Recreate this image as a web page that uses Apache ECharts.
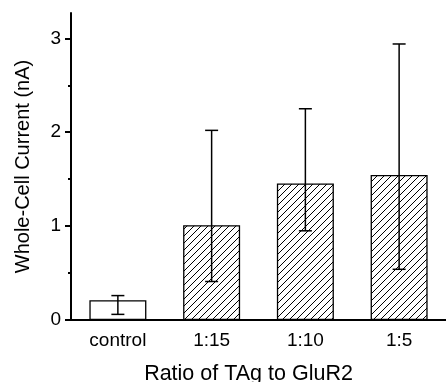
<!DOCTYPE html>
<html><head><meta charset="utf-8">
<script src="https://cdn.jsdelivr.net/npm/echarts@6/dist/echarts.min.js"></script>
<style>html,body{margin:0;padding:0;background:#fff}#c{width:446px;height:382px}</style>
</head><body><div id="c"></div>
<script>
const categories = ['control', '1:15', '1:10', '1:5'];
const means = [0.21, 1.01, 1.455, 1.545];
const errLow = [0.06, 0.41, 0.95, 0.54];
const errHigh = [0.26, 2.02, 2.25, 2.94];
const yTicks = [0, 1, 2, 3];
const yMinorTicks = [0.5, 1.5, 2.5];
const xName = 'Ratio of TAg to GluR2';
const yName = 'Whole-Cell Current (nA)';

function hatch() {
  const s = 7;
  const c = document.createElement('canvas');
  c.width = s; c.height = s;
  const g = c.getContext('2d');
  g.fillStyle = '#fff'; g.fillRect(0, 0, s, s);
  g.strokeStyle = '#000'; g.lineWidth = 1;
  g.beginPath();
  g.moveTo(0, s); g.lineTo(s, 0);
  g.moveTo(-1, 1); g.lineTo(1, -1);
  g.moveTo(s - 1, s + 1); g.lineTo(s + 1, s - 1);
  g.stroke();
  return c;
}
const pattern = { image: hatch(), repeat: 'repeat' };
const font = "'Liberation Sans', Arial, sans-serif";
const YMAX = 3.27;

const chart = echarts.init(document.getElementById('c'), null, { renderer: 'canvas' });
chart.setOption({
  animation: false,
  backgroundColor: '#fff',
  grid: { left: 71, right: 0, top: 13, bottom: 62, containLabel: false, outerBoundsMode: 'none' },
  xAxis: {
    type: 'category',
    data: categories,
    name: xName,
    nameLocation: 'middle',
    nameGap: 43,
    nameTextStyle: { fontSize: 21.5, color: '#000', fontFamily: font, padding: [0, 20, 0, 0] },
    axisLine: { lineStyle: { color: '#000', width: 2 } },
    axisTick: { alignWithLabel: true, length: 6, lineStyle: { color: '#000', width: 2 } },
    axisLabel: { fontSize: 19, color: '#000', fontFamily: font, margin: 11 }
  },
  yAxis: [{
    type: 'value', min: 0, max: YMAX,
    name: yName,
    nameLocation: 'middle',
    nameGap: 38,
    nameTextStyle: { fontSize: 20, color: '#000', fontFamily: font },
    axisLine: { show: true, lineStyle: { color: '#000', width: 2 } },
    axisTick: { show: true, length: 6, customValues: yTicks, lineStyle: { color: '#000', width: 2 } },
    axisLabel: { fontSize: 19, color: '#000', fontFamily: font, margin: 10, customValues: yTicks },
    splitLine: { show: false }
  }, {
    type: 'value', min: 0, max: YMAX, position: 'left', offset: 0,
    axisLine: { show: false },
    axisTick: { show: true, length: 3, customValues: yMinorTicks, lineStyle: { color: '#000', width: 2 } },
    axisLabel: { show: false },
    splitLine: { show: false }
  }],
  series: [{
    type: 'bar',
    barWidth: 57,
    data: means.map((v, i) => ({
      value: v,
      itemStyle: { color: i === 0 ? '#fff' : pattern, borderColor: '#000', borderWidth: 1.3 }
    }))
  }, {
    type: 'custom',
    z: 10,
    data: categories.map((c, i) => [i, errLow[i], errHigh[i]]),
    encode: { x: 0, y: [1, 2] },
    renderItem: function (params, api) {
      const x = api.value(0);
      const lo = api.coord([x, api.value(1)]);
      const hi = api.coord([x, api.value(2)]);
      const w = 6.5;
      const style = { stroke: '#000', lineWidth: 1.5, fill: null };
      return {
        type: 'group',
        children: [
          { type: 'line', shape: { x1: lo[0], y1: lo[1], x2: hi[0], y2: hi[1] }, style: style },
          { type: 'line', shape: { x1: lo[0] - w, y1: lo[1], x2: lo[0] + w, y2: lo[1] }, style: style },
          { type: 'line', shape: { x1: hi[0] - w, y1: hi[1], x2: hi[0] + w, y2: hi[1] }, style: style }
        ]
      };
    }
  }]
});
</script>
</body></html>
